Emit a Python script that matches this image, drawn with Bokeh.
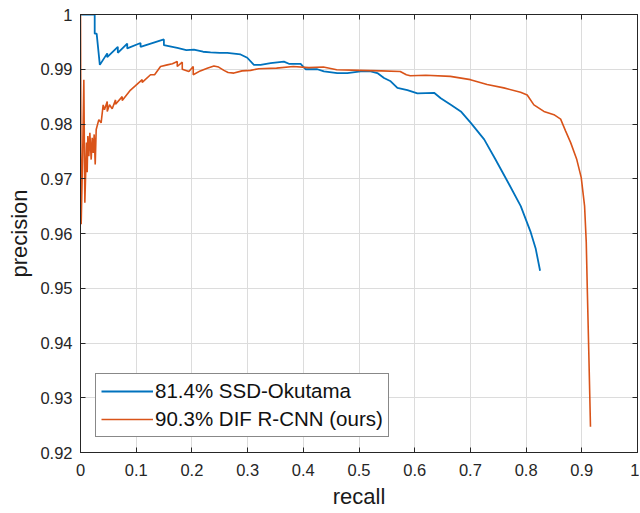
from bokeh.plotting import figure
from bokeh.models import (FixedTicker, CustomJSTickFormatter, LinearAxis, Range1d,
                          Legend, LegendItem)
from bokeh.embed import file_html
from bokeh.resources import INLINE

# ---- data ----
ssd_label = "81.4% SSD-Okutama"
ssd_recall = [0.0, 0.0255, 0.0255, 0.029, 0.0347, 0.048, 0.048, 0.067, 0.067, 0.0839, 0.0839,
              0.1078, 0.1078, 0.1497, 0.1497, 0.1737, 0.19, 0.2035, 0.22, 0.2335, 0.25, 0.2635,
              0.2874, 0.2994, 0.3113, 0.3233, 0.3413, 0.3652, 0.3742, 0.3952, 0.4042, 0.4251,
              0.4371, 0.461, 0.479, 0.503, 0.5209, 0.5329, 0.5449, 0.5569, 0.5689, 0.5869,
              0.6049, 0.6348, 0.6468, 0.6648, 0.6828, 0.7007, 0.7247, 0.7441, 0.7694, 0.7904,
              0.8084, 0.8173, 0.8251]
ssd_precision = [1.0, 1.0, 0.9965, 0.9965, 0.9908, 0.9929, 0.9922, 0.9941, 0.9930, 0.9947, 0.9938,
                 0.9948, 0.9941, 0.99545, 0.9944, 0.9939, 0.9935, 0.9936, 0.9932, 0.9931, 0.9930,
                 0.9930, 0.9927, 0.9921, 0.9908, 0.9908, 0.9911, 0.9914, 0.9910, 0.9910, 0.9900,
                 0.9900, 0.9896, 0.9893, 0.9893, 0.9896, 0.9896, 0.9893, 0.9884, 0.9878, 0.9866,
                 0.9862, 0.9856, 0.9857, 0.9847, 0.9835, 0.9823, 0.9802, 0.9772, 0.9737, 0.9690,
                 0.9650, 0.9602, 0.9572, 0.9532]

dif_label = "90.3% DIF R-CNN (ours)"
dif_recall = [0.0, 0.0012, 0.004, 0.006, 0.0078, 0.0108, 0.012, 0.0132, 0.015, 0.0168, 0.0192,
              0.021, 0.0228, 0.0246, 0.0264, 0.0282, 0.0329, 0.037, 0.0407, 0.043, 0.048, 0.048,
              0.052, 0.0569, 0.0629, 0.0629, 0.0749, 0.0749, 0.0898, 0.0988, 0.1108, 0.1108,
              0.1257, 0.133, 0.1437, 0.1557, 0.165, 0.1737, 0.1737, 0.1827, 0.1827, 0.1946,
              0.2024, 0.2024, 0.215, 0.2275, 0.2395, 0.248, 0.2574, 0.265, 0.2754, 0.29, 0.3054,
              0.32, 0.352, 0.382, 0.41, 0.436, 0.46, 0.502, 0.54, 0.574, 0.585, 0.592, 0.62,
              0.664, 0.70, 0.73, 0.76, 0.79, 0.802, 0.814, 0.832, 0.85, 0.862, 0.871, 0.88,
              0.891, 0.899, 0.905, 0.908, 0.910, 0.9128, 0.9156]
dif_precision = [1.0, 0.9617, 0.9750, 0.9881, 0.9656, 0.9766, 0.9712, 0.9778, 0.9741, 0.9784,
                 0.9735, 0.9775, 0.9747, 0.9781, 0.9726, 0.9790, 0.9808, 0.9802, 0.9835, 0.9826,
                 0.9841, 0.9823, 0.9835, 0.9828, 0.9844, 0.9836, 0.9850, 0.9843, 0.9862, 0.9870,
                 0.9881, 0.9876, 0.9890, 0.9890, 0.9905, 0.9908, 0.9910, 0.9914, 0.9905, 0.9913,
                 0.9900, 0.9896, 0.9905, 0.9890, 0.9897, 0.9902, 0.9906, 0.9904, 0.9898, 0.9894,
                 0.9893, 0.9897, 0.9898, 0.9901, 0.9902, 0.9905, 0.9903, 0.9904, 0.9899, 0.9898,
                 0.9897, 0.9896, 0.9890, 0.9888, 0.9889, 0.9887, 0.9881, 0.9872, 0.9866, 0.9858,
                 0.9853, 0.9835, 0.9823, 0.9817, 0.9809, 0.9787, 0.9766, 0.9735, 0.9702, 0.9650,
                 0.9584, 0.9493, 0.9372, 0.9247]

x_ticks = [0, 0.1, 0.2, 0.3, 0.4, 0.5, 0.6, 0.7, 0.8, 0.9, 1.0]
y_ticks = [0.92, 0.93, 0.94, 0.95, 0.96, 0.97, 0.98, 0.99, 1.0]
x_label = "recall"
y_label = "precision"

BLUE = "#0072BD"
ORANGE = "#D95319"
AXC = "#262626"
FONT = "Liberation Sans"

p = figure(width=639, height=513, output_backend="svg", toolbar_location=None,
           x_range=Range1d(0, 1), y_range=Range1d(0.92, 1.0),
           min_border_left=80, min_border_top=14, min_border_right=2, min_border_bottom=61,
           background_fill_color="white", border_fill_color="white")
p.outline_line_color = AXC
p.outline_line_width = 1

fmt = CustomJSTickFormatter(code="return String(Number(tick.toFixed(2)));")
blank = CustomJSTickFormatter(code="return '';")

for ax, ticks in ((p.xaxis[0], x_ticks), (p.yaxis[0], y_ticks)):
    ax.ticker = FixedTicker(ticks=ticks)
    ax.formatter = fmt
    ax.major_tick_in = 5
    ax.major_tick_out = 0
    ax.minor_tick_line_color = None
    ax.axis_line_color = AXC
    ax.major_tick_line_color = AXC
    ax.major_label_text_font = FONT
    ax.major_label_text_font_size = "16.5px"
    ax.major_label_text_color = AXC
    ax.axis_label_text_font = FONT
    ax.axis_label_text_font_size = "22px"
    ax.axis_label_text_font_style = "normal"
    ax.axis_label_text_color = "#1a1a1a"

p.xaxis[0].axis_label = x_label
p.yaxis[0].axis_label = y_label
p.xaxis[0].major_label_standoff = 11
p.xaxis[0].axis_label_standoff = 5
p.yaxis[0].major_label_standoff = 8
p.yaxis[0].axis_label_standoff = 5

# box ticks on top and right
for loc, ticks in (("above", x_ticks), ("right", y_ticks)):
    a = LinearAxis(ticker=FixedTicker(ticks=ticks), formatter=blank,
                   major_label_standoff=0, major_tick_in=5, major_tick_out=0,
                   minor_tick_line_color=None, axis_line_color=AXC, major_tick_line_color=AXC)
    p.add_layout(a, loc)

p.xgrid.ticker = FixedTicker(ticks=x_ticks)
p.ygrid.ticker = FixedTicker(ticks=y_ticks)
p.grid.grid_line_color = "#dcdcdc"
p.grid.grid_line_width = 1

r1 = p.line(ssd_recall, ssd_precision, line_color=BLUE, line_width=1.8)
r2 = p.line(dif_recall, dif_precision, line_color=ORANGE, line_width=1.6)

legend = Legend(items=[LegendItem(label=ssd_label, renderers=[r1]),
                       LegendItem(label=dif_label, renderers=[r2])],
                location=(15, 15), margin=0, padding=5, spacing=4,
                glyph_width=52, glyph_height=24, label_height=24, label_standoff=2,
                label_text_font=FONT, label_text_font_size="20.5px", label_text_color="#111111",
                border_line_color="#111111", border_line_width=1, background_fill_color="white",
                background_fill_alpha=1.0)
p.add_layout(legend, "center")

open("out.html", "w").write(file_html(p, INLINE))
